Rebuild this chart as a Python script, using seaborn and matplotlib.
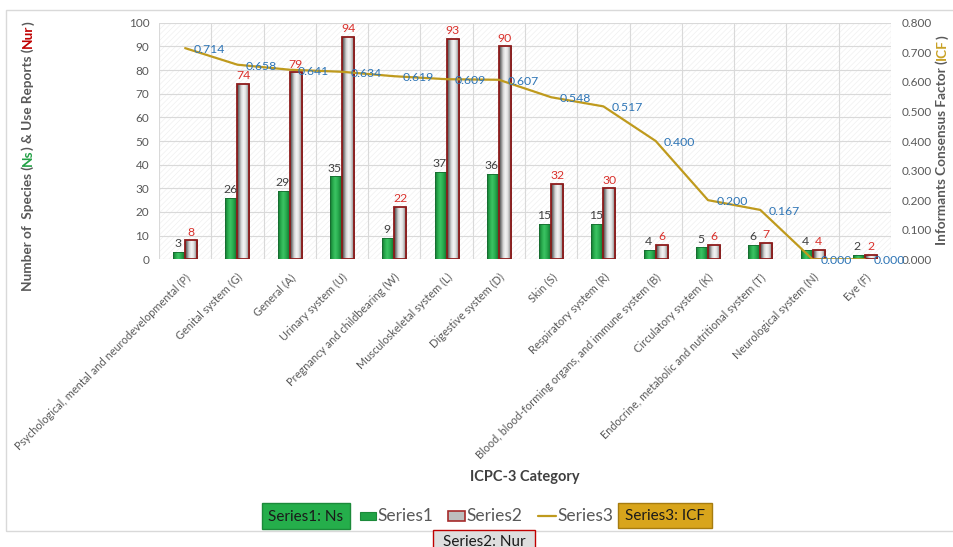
import numpy as np
import pandas as pd
import matplotlib
matplotlib.use("Agg")
import matplotlib.pyplot as plt
from matplotlib.patches import Rectangle
from matplotlib.colors import LinearSegmentedColormap
from matplotlib.lines import Line2D
import seaborn as sns

# ---- data -------------------------------------------------------------
categories = [
    "Psychological, mental and neurodevelopmental (P)",
    "Genital system (G)",
    "General (A)",
    "Urinary system (U)",
    "Pregnancy and childbearing (W)",
    "Musculoskeletal system (L)",
    "Digestive system (D)",
    "Skin (S)",
    "Respiratory system (R)",
    "Blood, blood-forming organs, and immune system (B)",
    "Circulatory system (K)",
    "Endocrine, metabolic and nutritional system (T)",
    "Neurological system (N)",
    "Eye (F)",
]
ns_values = [3, 26, 29, 35, 9, 37, 36, 15, 15, 4, 5, 6, 4, 2]
nur_values = [8, 74, 79, 94, 22, 93, 90, 32, 30, 6, 6, 7, 4, 2]
icf_values = [0.714, 0.658, 0.641, 0.634, 0.619, 0.609, 0.607,
              0.548, 0.517, 0.400, 0.200, 0.167, 0.000, 0.000]
left_ticks = list(range(0, 101, 10))
right_ticks = [0.0, 0.1, 0.2, 0.3, 0.4, 0.5, 0.6, 0.7, 0.8]

# ---- style --------------------------------------------------------------
sns.set_theme(style="white")
plt.rcParams["font.family"] = ["Lato", "DejaVu Sans"]
plt.rcParams["hatch.linewidth"] = 0.5

GREEN = "#21a346"
GRAY = "#c9c9c9"
RED_EDGE = "#8e1b1b"
GOLD = "#bf9a1d"
BLUE = "#2e75b6"
RED_TXT = "#d9302b"
TXT = "#595959"

W, H = 954, 547
fig = plt.figure(figsize=(W / 100, H / 100), dpi=100)


def fx(x):
    return x / W


def fy(y):
    return 1 - y / H


ax = fig.add_axes([fx(159), fy(259.3), fx(891) - fx(159), fy(22.7) - fy(259.3)])

df = pd.DataFrame({
    "category": categories * 2,
    "value": ns_values + nur_values,
    "series": ["Series1"] * len(categories) + ["Series2"] * len(categories),
})

sns.barplot(data=df, x="category", y="value", hue="series",
            hue_order=["Series1", "Series2"], palette=[GREEN, GRAY],
            width=0.46, saturation=1, legend=False, ax=ax, zorder=3)

ax.set_xlim(-0.5, len(categories) - 0.5)
ax.set_ylim(0, 100)

# hatched plot background
ax.add_patch(Rectangle((0, 0), 1, 1, transform=ax.transAxes, facecolor="white",
                       hatch="//////", edgecolor="#f0f0f0", lw=0, zorder=0))

# gridlines
ax.set_yticks(left_ticks)
ax.set_xticks(np.arange(-0.5, len(categories)), minor=True)
ax.grid(axis="y", which="major", color="#d9d9d9", lw=0.8, zorder=1)
ax.grid(axis="x", which="minor", color="#d9d9d9", lw=0.8, zorder=1)
ax.set_axisbelow(True)
for s in ax.spines.values():
    s.set_visible(False)

# shaded bar faces
green_cmap = LinearSegmentedColormap.from_list(
    "g", ["#14702f", "#26a84a", "#3cc363", "#2bb052", "#1b8a3c", "#116128"])
gray_cmap = LinearSegmentedColormap.from_list(
    "s", ["#3a3a3a", "#8a8a8a", "#d8d8d8", "#f4f4f4", "#e2e2e2", "#a8a8a8", "#4a4a4a"])
grad = np.linspace(0, 1, 64).reshape(1, -1)

green_bars, gray_bars = ax.containers[0], ax.containers[1]
for bars, cmap, edge in ((green_bars, green_cmap, "#166b30"),
                         (gray_bars, gray_cmap, RED_EDGE)):
    for bar in bars:
        x0, w, h = bar.get_x(), bar.get_width(), bar.get_height()
        im = ax.imshow(grad, extent=[x0, x0 + w, 0, h], aspect="auto",
                       cmap=cmap, zorder=3.5, interpolation="bilinear")
        im.set_clip_path(bar)
        bar.set_facecolor("none")
        bar.set_edgecolor(edge)
        bar.set_linewidth(1.3 if edge == RED_EDGE else 0.6)
        bar.set_zorder(4)

ax.set_xlim(-0.5, len(categories) - 0.5)
ax.set_ylim(0, 100)

# value labels above bars
for bar, v in zip(green_bars, ns_values):
    ax.annotate(f"{v}", (bar.get_x() + bar.get_width() / 2, v),
                xytext=(-1, 2), textcoords="offset points", ha="center",
                va="bottom", fontsize=8.8, color="#404040", zorder=6)
for bar, v in zip(gray_bars, nur_values):
    ax.annotate(f"{v}", (bar.get_x() + bar.get_width() / 2, v),
                xytext=(0, 2), textcoords="offset points", ha="center",
                va="bottom", fontsize=8.8, color=RED_TXT, zorder=6)

# axes ticks
ax.tick_params(axis="y", length=0, pad=7, labelsize=8.5, labelcolor=TXT)
ax.tick_params(axis="x", which="both", length=0, pad=9)
ax.set_xticks(np.arange(len(categories)))
ax.set_xticklabels(categories, rotation=45, ha="right", rotation_mode="anchor",
                   fontsize=7.9, color=TXT)
ax.set_xlabel("")
ax.set_ylabel("")

# ICF line on the secondary axis
ax2 = ax.twinx()
sns.lineplot(x=np.arange(len(categories)), y=icf_values, ax=ax2,
             color=GOLD, lw=1.6, zorder=5)
ax2.set_ylim(0, 0.8)
ax2.set_yticks(right_ticks)
ax2.set_yticklabels([f"{t:.3f}" for t in right_ticks])
ax2.tick_params(axis="y", length=0, pad=8, labelsize=8.5, labelcolor=TXT)
for s in ax2.spines.values():
    s.set_visible(False)
ax2.grid(False)
ax2.set_xlim(-0.5, len(categories) - 0.5)
for i, v in enumerate(icf_values):
    ax2.annotate(f"{v:.3f}", (i, v), xytext=(6, -1), textcoords="offset points",
                 ha="left", va="center", fontsize=8.8, color=BLUE, zorder=7)

# outer chart border
fig.add_artist(Rectangle((fx(6), fy(531)), fx(960) - fx(6), fy(10) - fy(531),
                         transform=fig.transFigure, facecolor="none",
                         edgecolor="#d9d9d9", lw=1.0))

# multi-coloured rotated axis titles
fig.canvas.draw()
renderer = fig.canvas.get_renderer()


def vertical_title(x, y_center, pieces, size=9.8):
    texts = []
    for s, c in pieces:
        t = fig.text(fx(x), 0, s, rotation=90, color=c, fontsize=size,
                     fontweight="bold", ha="center", va="bottom")
        texts.append(t)
    heights = [t.get_window_extent(renderer).height for t in texts]
    total = sum(heights)
    y = (H - y_center) - total / 2
    for t, h in zip(texts, heights):
        t.set_y(y / H)
        y += h


vertical_title(28, 156, [("Number of  Species (", TXT), ("Ns", "#22a045"),
                         (") & Use Reports (", TXT), ("Nur", "#c00000"),
                         (")", TXT)])
vertical_title(942, 140, [("Informants Consensus Factor (", TXT),
                          ("ICF", "#c9a227"), (")", TXT)])

fig.text(fx(525), fy(477), "ICPC-3 Category", ha="center", va="center",
         fontsize=10.5, fontweight="bold", color="#404040")


# legend row
def label_box(x0, y0, x1, y1, text, face, edge, tcolor="#1a1a1a"):
    fig.add_artist(Rectangle((fx(x0), fy(y1)), fx(x1) - fx(x0), fy(y0) - fy(y1),
                             transform=fig.transFigure, facecolor=face,
                             edgecolor=edge, lw=1.0))
    fig.text(fx((x0 + x1) / 2), fy((y0 + y1) / 2 + 1), text, ha="center",
             va="center", fontsize=11, color=tcolor)


label_box(262, 503, 350, 529, "Series1: Ns", "#25ae4b", "#1c8a3a")
label_box(618, 503, 712, 528, "Series3: ICF", "#d8a51c", "#a67c10")
label_box(433, 530, 535, 552, "Series2: Nur", "#dedede", "#c00000")

fig.add_artist(Rectangle((fx(360), fy(520)), fx(376) - fx(360), fy(512) - fy(520),
                         transform=fig.transFigure, facecolor=GREEN,
                         edgecolor="#1c8a3a", lw=0.8))
fig.text(fx(377), fy(516), "Series1", ha="left", va="center", fontsize=12.5,
         color=TXT)
fig.add_artist(Rectangle((fx(448), fy(521)), fx(465) - fx(448), fy(511) - fy(521),
                         transform=fig.transFigure, facecolor="#bdbdbd",
                         edgecolor="#a52a2a", lw=1.2))
fig.text(fx(466), fy(516), "Series2", ha="left", va="center", fontsize=12.5,
         color=TXT)
fig.add_artist(Line2D([fx(538), fx(556)], [fy(516), fy(516)],
                      transform=fig.transFigure, color=GOLD, lw=1.6))
fig.text(fx(557), fy(516), "Series3", ha="left", va="center", fontsize=12.5,
         color=TXT)

fig.savefig("out.png", dpi=100)
